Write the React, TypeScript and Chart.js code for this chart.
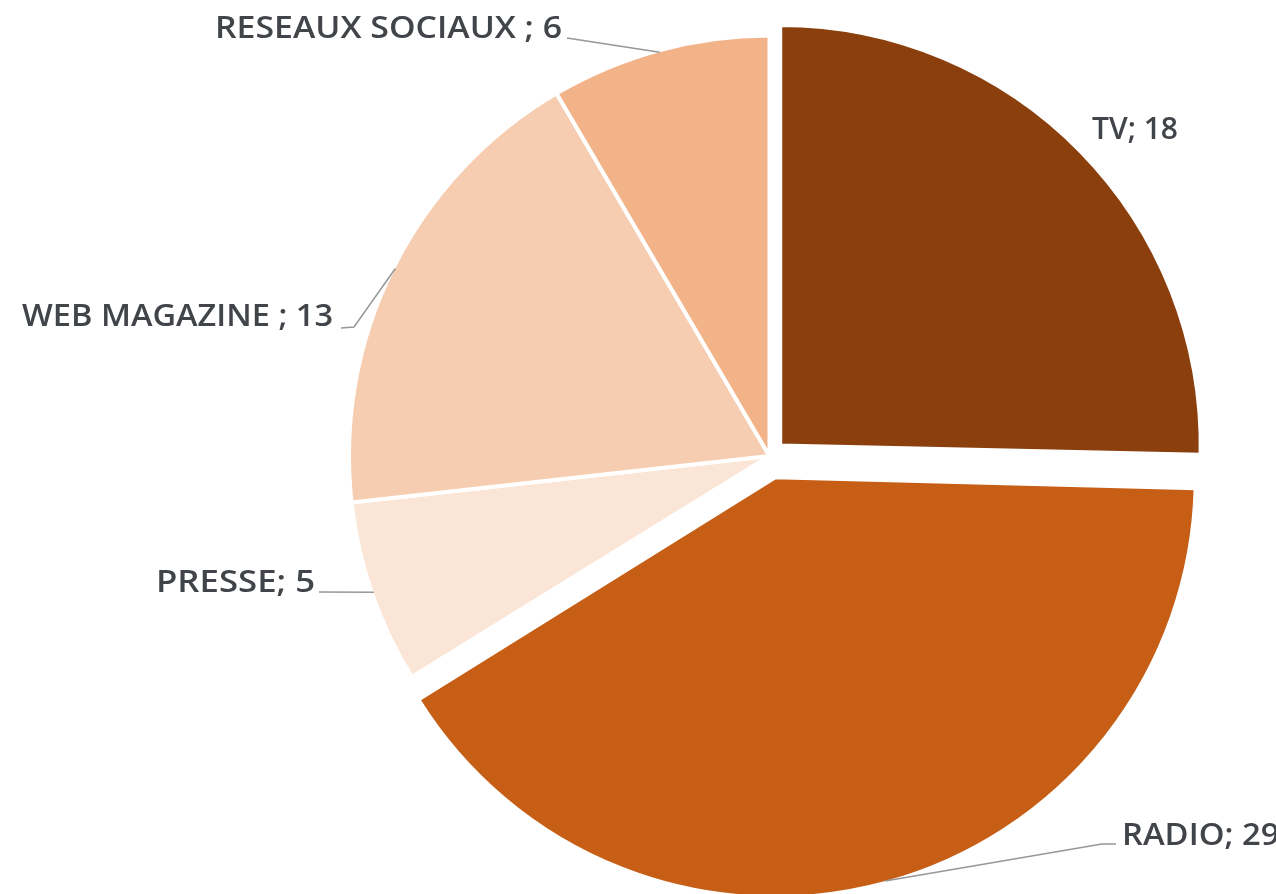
import React, { useEffect, useRef } from "react";
import { Chart, registerables } from "chart.js";

Chart.register(...registerables);

const categories = ["TV", "RADIO", "PRESSE", "WEB MAGAZINE", "RESEAUX SOCIAUX"];
const values = [18, 29, 5, 13, 6];
const labelSeparators = ["", "", "", " ", " "];
const sliceColors = ["#8A3F0D", "#C65E15", "#FBE5D6", "#F7CDB1", "#F3B388"];
const sliceOffsets = [60, 88, 0, 0, 0];

// label placement (text left / baseline, fitted width, leader line points before the arc anchor)
const labelLayout = [
  { x: 1092, y: 139, w: 86, line: null as number[][] | null },
  { x: 1122, y: 845, w: 0, line: [[1116, 844], [1102, 844]] },
  { x: 156, y: 592, w: 159, line: [[319, 592]] },
  { x: 22, y: 326, w: 311, line: [[341, 328], [354, 327]] },
  { x: 215, y: 38, w: 347, line: [[567, 38]] },
];

const BORDER = 4;
const RADIUS = 420.5;

const fixRadiusPlugin = {
  id: "fixRadius",
  afterDatasetsUpdate(chart: any) {
    const meta = chart.getDatasetMeta(0);
    meta.data.forEach((arc: any, i: number) => {
      const circ = arc.endAngle - arc.startAngle;
      const fix = 1 - Math.sin(Math.min(Math.PI, circ));
      const ro = ((sliceOffsets[i] || 0) / 4) * fix;
      arc.outerRadius = RADIUS - ro;
    });
  },
};

const labelPlugin = {
  id: "pieLabels",
  afterDatasetsDraw(chart: any) {
    const ctx = chart.ctx;
    const meta = chart.getDatasetMeta(0);
    const font = "600 30px 'Open Sans'";
    ctx.save();
    ctx.font = font;
    const scales: number[] = [];
    labelLayout.forEach((l, i) => {
      const text = categories[i] + labelSeparators[i] + "; " + values[i];
      const m = ctx.measureText(text).width;
      scales.push(l.w ? l.w / m : 0);
    });
    const known = scales.filter((s) => s > 0);
    const avg = known.reduce((a, b) => a + b, 0) / known.length;

    meta.data.forEach((arc: any, i: number) => {
      const l = labelLayout[i];
      const mid = (arc.startAngle + arc.endAngle) / 2;
      const shift = (sliceOffsets[i] || 0) / 4;
      const rVis = RADIUS - BORDER / 2;
      const ax = arc.x + Math.cos(mid) * (shift + rVis);
      const ay = arc.y + Math.sin(mid) * (shift + rVis);
      if (l.line) {
        ctx.beginPath();
        ctx.strokeStyle = "#979797";
        ctx.lineWidth = 1.5;
        ctx.moveTo(l.line[0][0], l.line[0][1]);
        for (let k = 1; k < l.line.length; k++) ctx.lineTo(l.line[k][0], l.line[k][1]);
        ctx.lineTo(ax, ay);
        ctx.stroke();
      }
      const text = categories[i] + labelSeparators[i] + "; " + values[i];
      const s = scales[i] || avg;
      ctx.save();
      ctx.translate(l.x, l.y);
      ctx.scale(s, 1);
      ctx.fillStyle = "#414448";
      ctx.textAlign = "left";
      ctx.textBaseline = "alphabetic";
      ctx.fillText(text, 0, 0);
      ctx.restore();
    });
    ctx.restore();
  },
};

export default function App() {
  const ref = useRef<HTMLCanvasElement | null>(null);
  useEffect(() => {
    if (!ref.current) return;
    const chart = new Chart(ref.current, {
      type: "pie",
      data: {
        labels: categories,
        datasets: [
          {
            data: values,
            backgroundColor: sliceColors,
            borderColor: "#FFFFFF",
            borderWidth: BORDER,
            offset: sliceOffsets,
          },
        ],
      },
      options: {
        responsive: false,
        animation: false,
        radius: RADIUS,
        layout: { padding: { left: 263, right: 0, top: 18, bottom: 0 } },
        plugins: { legend: { display: false }, tooltip: { enabled: false } },
      } as any,
      plugins: [fixRadiusPlugin, labelPlugin],
    });
    return () => chart.destroy();
  }, []);
  return (
    <div style={{ position: "absolute", left: 0, top: 0, width: 1276, height: 894, overflow: "hidden", background: "#fff" }}>
      <canvas ref={ref} width={1276} height={894} style={{ width: 1276, height: 894 }} />
    </div>
  );
}
